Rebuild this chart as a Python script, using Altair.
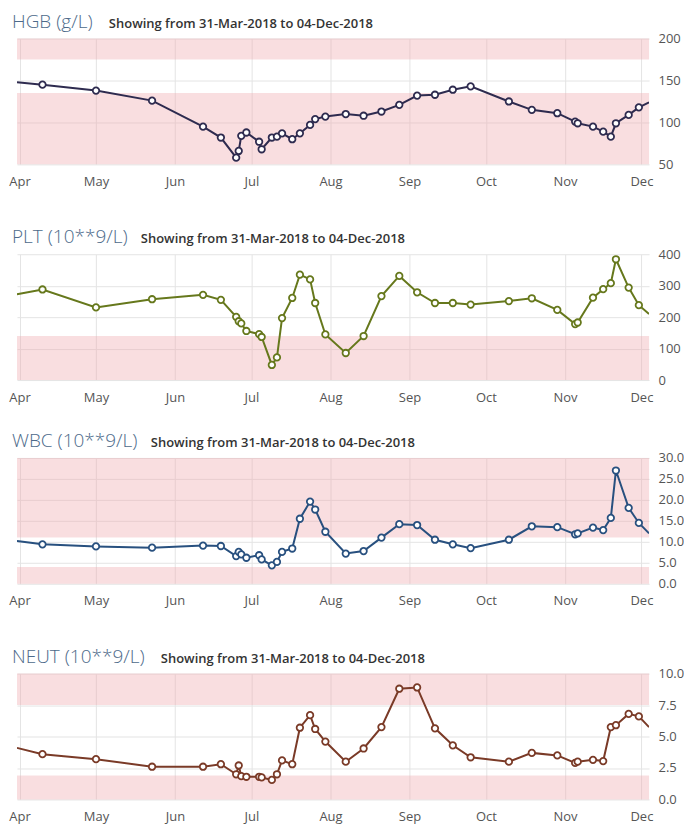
import altair as alt
import pandas as pd

# ---- data ----
dates = [
    "2018-03-31", "2018-04-10", "2018-05-01", "2018-05-23", "2018-06-12",
    "2018-06-19", "2018-06-25", "2018-06-26", "2018-06-27", "2018-06-29",
    "2018-07-04", "2018-07-05", "2018-07-09", "2018-07-11", "2018-07-13",
    "2018-07-17", "2018-07-20", "2018-07-24", "2018-07-26", "2018-07-30",
    "2018-08-07", "2018-08-14", "2018-08-21", "2018-08-28", "2018-09-04",
    "2018-09-11", "2018-09-18", "2018-09-25", "2018-10-10", "2018-10-19",
    "2018-10-29", "2018-11-05", "2018-11-06", "2018-11-12", "2018-11-16",
    "2018-11-19", "2018-11-21", "2018-11-26", "2018-11-30", "2018-12-04",
]
hgb = [148, 145, 138, 126, 95, 82, 58, 66, 84, 88,
       77, 68, 82, 83, 87, 80, 87, 97, 104, 107,
       110, 108, 113, 121, 132, 133, 139, 143, 125, 115,
       111, 101, 99, 95, 89, 83, 99, 109, 118, 124]
plt_ = [273, 288, 231, 257, 271, 255, 201, 187, 180, 156,
        146, 137, 48, 72, 197, 261, 335, 320, 245, 145,
        86, 140, 267, 331, 279, 245, 245, 240, 251, 260,
        223, 178, 183, 262, 289, 308, 384, 294, 238, 210]
wbc = [10.2, 9.4, 8.9, 8.6, 9.1, 9.0, 6.6, 7.6, 7.0, 6.2,
       6.8, 5.8, 4.4, 5.2, 7.6, 8.4, 15.5, 19.6, 17.7, 12.4,
       7.2, 7.8, 11.0, 14.2, 14.0, 10.5, 9.4, 8.5, 10.5, 13.7,
       13.5, 11.8, 12.0, 13.4, 12.8, 15.7, 27.0, 18.1, 14.5, 12.0]
neut = [4.1, 3.6, 3.2, 2.6, 2.6, 2.8, 2.0, 2.7, 1.85, 1.8,
        1.8, 1.75, 1.55, 2.0, 3.1, 2.8, 5.7, 6.7, 5.6, 4.6,
        3.0, 4.05, 5.75, 8.8, 8.9, 5.65, 4.3, 3.35, 3.0, 3.7,
        3.5, 2.9, 3.0, 3.15, 3.05, 5.75, 5.9, 6.8, 6.6, 5.75]

titles = ["HGB (g/L)", "PLT (10**9/L)", "WBC (10**9/L)", "NEUT (10**9/L)"]
subtitle = "Showing from 31-Mar-2018 to 04-Dec-2018"

hgb_bands_lo = [175, 50]
hgb_bands_hi = [200, 135]
plt_bands_lo = [0]
plt_bands_hi = [140]
wbc_bands_lo = [11, 0]
wbc_bands_hi = [30, 4]
neut_bands_lo = [7.5, 0]
neut_bands_hi = [10, 1.9]

hgb_ticks = [50, 100, 150, 200]
plt_ticks = [0, 100, 200, 300, 400]
wbc_ticks = [0, 5, 10, 15, 20, 25, 30]
neut_ticks = [0, 2.5, 5, 7.5, 10]

W = 633
H = 126

x_domain = [alt.DateTime(year=2018, month=3, date=31),
            alt.DateTime(year=2018, month=12, date=4)]
month_ticks = [alt.DateTime(year=2018, month=m, date=1) for m in range(4, 13)]


def build(title, values, color, lo, hi, ydom, yticks, yfmt, sub_x):
    df = pd.DataFrame({"date": [d + "T00:00:00" for d in dates], "value": values})
    pts = df.iloc[1:-1]
    bands = pd.DataFrame({"lo": lo, "hi": hi})

    xenc = alt.X(
        "date:T",
        scale=alt.Scale(domain=x_domain),
        axis=alt.Axis(values=month_ticks, format="%b", labelFlush=False,
                      ticks=False, domain=False, grid=True, labelPadding=11,
                      gridColor="#e4e4e4", labelOverlap=False),
        title=None,
    )
    yscale = alt.Scale(domain=ydom, nice=False, zero=False)
    yaxis = alt.Axis(orient="right", values=yticks, format=yfmt, ticks=False,
                     domain=False, grid=True, gridColor="#e4e4e4",
                     labelPadding=9)

    band_layer = alt.Chart(bands).mark_rect(
        color="#f0a8ae", opacity=0.38
    ).encode(
        x=alt.value(0), x2=alt.value("width"),
        y=alt.Y("lo:Q", scale=yscale, axis=yaxis, title=None),
        y2="hi:Q",
    )
    line = alt.Chart(df).mark_line(color=color, strokeWidth=2, clip=True).encode(
        x=xenc, y=alt.Y("value:Q", scale=yscale, axis=yaxis, title=None)
    )
    points = alt.Chart(pts).mark_point(
        shape="circle", size=42, filled=True, fill="white", fillOpacity=1,
        stroke=color, strokeWidth=1.8, opacity=1,
    ).encode(x=xenc, y=alt.Y("value:Q", scale=yscale, axis=yaxis, title=None))

    tdf = pd.DataFrame({"t": [title], "s": [subtitle]})
    t1 = alt.Chart(tdf).mark_text(
        align="left", baseline="alphabetic", font="Open Sans", fontSize=19,
        fontWeight=300, color="#4d6a8a"
    ).encode(text="t:N", x=alt.value(-5), y=alt.value(-11))
    t2 = alt.Chart(tdf).mark_text(
        align="left", baseline="alphabetic", font="Open Sans", fontSize=13,
        fontWeight=600, color="#333333"
    ).encode(text="s:N", x=alt.value(sub_x), y=alt.value(-11))

    return alt.layer(band_layer, line, points, t1, t2).properties(width=W, height=H)


p1 = build(titles[0], hgb, "#2e2b4f", hgb_bands_lo, hgb_bands_hi, [50, 200], hgb_ticks, "d", 92)
p2 = build(titles[1], plt_, "#66781c", plt_bands_lo, plt_bands_hi, [0, 400], plt_ticks, "d", 124)
p3 = build(titles[2], wbc, "#28507f", wbc_bands_lo, wbc_bands_hi, [0, 30], wbc_ticks, ".1f", 134)
p4 = build(titles[3], neut, "#7a3a27", neut_bands_lo, neut_bands_hi, [0, 10], neut_ticks, ".1f", 144)

chart = alt.vconcat(
    p1, alt.vconcat(p2, p3, spacing=28), p4, spacing=40
).properties(
    padding={"left": 0, "top": 4, "right": 0, "bottom": 0}
).configure_view(
    stroke=None
).configure_axis(
    labelFont="Open Sans", labelFontSize=13, labelColor="#555555"
)

chart.save("out.html", embed_options={"renderer": "svg", "actions": False})
